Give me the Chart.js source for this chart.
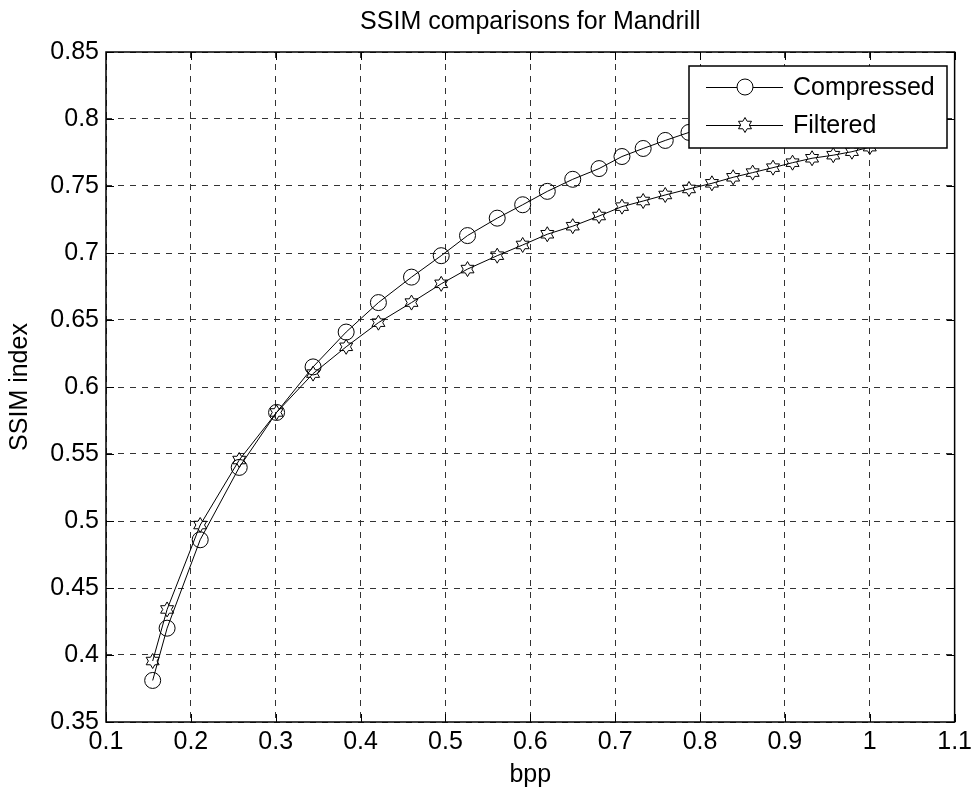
<!DOCTYPE html>
<html>
<head>
<meta charset="utf-8">
<title>SSIM comparisons for Mandrill</title>
<script src="https://cdn.jsdelivr.net/npm/chart.js@4/dist/chart.umd.min.js"></script>
<style>
  body { margin: 0; background: #fff; }
  canvas { display: block; }
</style>
</head>
<body>
<canvas id="ssimChart" width="977" height="794"></canvas>
<script>
// data
const bpp = [0.155, 0.172, 0.211, 0.257, 0.301, 0.344, 0.383, 0.421, 0.460, 0.495,
  0.526, 0.561, 0.591, 0.620, 0.650, 0.681, 0.708, 0.733, 0.759, 0.787,
  0.814, 0.839, 0.862, 0.886, 0.909, 0.932, 0.957, 0.979, 1.000];
const compressed = [0.381, 0.420, 0.486, 0.540, 0.581, 0.615, 0.641, 0.663, 0.682, 0.698,
  0.713, 0.726, 0.736, 0.746, 0.755, 0.763, 0.772, 0.778, 0.784, 0.790,
  0.795, 0.799, 0.803, 0.806, 0.810, 0.813, 0.816, 0.819, 0.822];
const filtered = [0.3955, 0.434, 0.497, 0.5455, 0.581, 0.610, 0.630, 0.648, 0.663, 0.677,
  0.688, 0.698, 0.706, 0.714, 0.720, 0.7276, 0.7346, 0.7388, 0.7433, 0.7478,
  0.752, 0.7565, 0.760, 0.7637, 0.7674, 0.7707, 0.773, 0.7756, 0.779];
const seriesNames = ['Compressed', 'Filtered'];
const xTicks = [0.1, 0.2, 0.3, 0.4, 0.5, 0.6, 0.7, 0.8, 0.9, 1.0, 1.1];
const yTicks = [0.35, 0.4, 0.45, 0.5, 0.55, 0.6, 0.65, 0.7, 0.75, 0.8, 0.85];

const FONT = "'Liberation Sans', Arial, Helvetica, sans-serif";

// six pointed star outline
function hexagramPath(ctx, cx, cy, R) {
  const r = R / Math.sqrt(3);
  ctx.beginPath();
  for (let i = 0; i < 12; i++) {
    const a = -Math.PI / 2 + i * Math.PI / 6;
    const rad = i % 2 === 0 ? R : r;
    const px = cx + rad * Math.cos(a), py = cy + rad * Math.sin(a);
    if (i === 0) ctx.moveTo(px, py); else ctx.lineTo(px, py);
  }
  ctx.closePath();
}

// star markers for the Filtered series, at the points chart.js placed
const starMarkers = {
  id: 'starMarkers',
  afterDatasetsDraw(chart) {
    const ctx = chart.ctx;
    const meta = chart.getDatasetMeta(1);
    ctx.save();
    ctx.strokeStyle = '#000';
    ctx.lineWidth = 1;
    meta.data.forEach(el => {
      hexagramPath(ctx, el.x, el.y, 7.5);
      ctx.stroke();
    });
    ctx.restore();
  }
};

// box, inward ticks and legend drawn on top (matlab look)
const matlabFrame = {
  id: 'matlabFrame',
  afterDraw(chart) {
    const ctx = chart.ctx;
    const a = chart.chartArea;
    const xs = chart.scales.x, ys = chart.scales.y;
    const tl = 8;
    ctx.save();
    ctx.strokeStyle = '#000';
    ctx.lineWidth = 1;
    ctx.beginPath();
    xTicks.forEach(v => {
      const px = Math.round(xs.getPixelForValue(v)) + 0.5;
      ctx.moveTo(px, a.bottom); ctx.lineTo(px, a.bottom - tl);
      ctx.moveTo(px, a.top); ctx.lineTo(px, a.top + tl);
    });
    yTicks.forEach(v => {
      const py = Math.round(ys.getPixelForValue(v)) + 0.5;
      ctx.moveTo(a.left, py); ctx.lineTo(a.left + tl, py);
      ctx.moveTo(a.right, py); ctx.lineTo(a.right - tl, py);
    });
    ctx.stroke();
    ctx.lineWidth = 1.5;
    ctx.strokeRect(a.left, a.top, a.right - a.left, a.bottom - a.top);

    // legend
    const lx = 689, ly = 66, lw = 258, lh = 82;
    ctx.fillStyle = '#fff';
    ctx.fillRect(lx, ly, lw, lh);
    ctx.strokeRect(lx, ly, lw, lh);
    ctx.lineWidth = 1;
    ctx.font = '25px ' + FONT;
    ctx.textBaseline = 'middle';
    ctx.textAlign = 'left';
    seriesNames.forEach((name, i) => {
      const cy = ly + 21 + i * 38;
      ctx.beginPath();
      ctx.moveTo(706, cy + 0.5);
      ctx.lineTo(783, cy + 0.5);
      ctx.stroke();
      ctx.fillStyle = '#fff';
      if (i === 0) {
        ctx.beginPath();
        ctx.arc(745, cy, 8, 0, Math.PI * 2);
      } else {
        hexagramPath(ctx, 745, cy, 7.5);
      }
      ctx.fill();
      ctx.stroke();
      ctx.fillStyle = '#000';
      ctx.fillText(name, 793, cy + 1);
    });
    ctx.restore();
  }
};

const ssimData = {
  datasets: [
    {
      label: seriesNames[0],
      data: bpp.map((x, i) => ({ x: x, y: compressed[i] })),
      borderColor: '#000',
      borderWidth: 1,
      pointStyle: 'circle',
      pointRadius: 8,
      pointBorderWidth: 1,
      pointBorderColor: '#000',
      pointBackgroundColor: 'rgba(0,0,0,0)',
      tension: 0
    },
    {
      label: seriesNames[1],
      data: bpp.map((x, i) => ({ x: x, y: filtered[i] })),
      borderColor: '#000',
      borderWidth: 1,
      pointRadius: 0,
      tension: 0
    }
  ]
};

const tickFmt = v => String(+Number(v).toFixed(2));

const ssimConfig = {
  type: 'line',
  data: ssimData,
  options: {
    responsive: false,
    animation: false,
    devicePixelRatio: 1,
    layout: { padding: { left: 0, right: 21, top: 0, bottom: 0 } },
    plugins: {
      legend: { display: false },
      tooltip: { enabled: false },
      title: {
        display: true,
        fullSize: false,
        text: 'SSIM comparisons for Mandrill',
        color: '#000',
        font: { family: FONT, size: 25, weight: 'normal' },
        padding: { top: 7, bottom: 15 }
      }
    },
    scales: {
      x: {
        type: 'linear',
        min: 0.1,
        max: 1.1,
        afterBuildTicks: s => { s.ticks = xTicks.map(v => ({ value: v })); },
        afterFit: s => { s.height = 72; },
        ticks: {
          color: '#000',
          font: { family: FONT, size: 25 },
          padding: 5,
          maxRotation: 0,
          autoSkip: false,
          callback: tickFmt
        },
        grid: { color: '#333', lineWidth: 1, drawTicks: false },
        border: { display: false, dash: [6, 6] },
        title: {
          display: true,
          text: 'bpp',
          color: '#000',
          font: { family: FONT, size: 25 },
          padding: { top: 4, bottom: 4 }
        }
      },
      y: {
        type: 'linear',
        min: 0.35,
        max: 0.85,
        afterBuildTicks: s => { s.ticks = yTicks.map(v => ({ value: v })); },
        afterFit: s => { s.width = 106; },
        ticks: {
          color: '#000',
          font: { family: FONT, size: 25 },
          padding: 7,
          autoSkip: false,
          callback: tickFmt
        },
        grid: { color: '#333', lineWidth: 1, drawTicks: false },
        border: { display: false, dash: [6, 6] },
        title: {
          display: true,
          text: 'SSIM index',
          color: '#000',
          font: { family: FONT, size: 25 },
          padding: { top: 5, bottom: 4 }
        }
      }
    }
  },
  plugins: [starMarkers, matlabFrame]
};

const ssimChart = new Chart(document.getElementById('ssimChart'), ssimConfig);
</script>
</body>
</html>
